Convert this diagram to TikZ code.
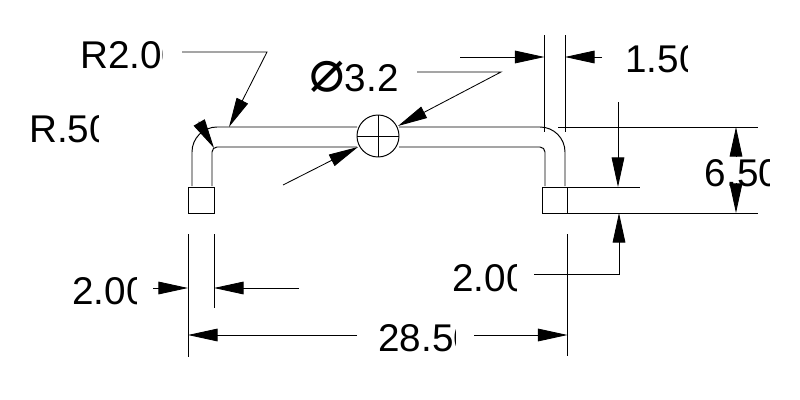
\documentclass[tikz,border=0pt]{standalone}
\usepackage{fontspec}
\setmainfont{Liberation Sans}
\newfontfamily\symfont{DejaVu Sans}
\usetikzlibrary{arrows.meta}
\tikzset{
  part/.style={line width=0.7pt},
  extline/.style={line width=0.6pt},
  dimarrow/.style={line width=0.6pt,-{Triangle[length=21pt,width=9pt]}},
  dimtext/.style={anchor=base west,inner sep=0pt,font=\fontsize{27.5}{27.5}\selectfont}
}
\newcommand{\dimlabel}[5]{%
\begin{scope}
\clip (#2-4,#3-45) rectangle (#4,#3+10);
\node[dimtext] (#1) at (#2,#3) {#5};
\end{scope}}

\begin{document}
\begin{tikzpicture}[x=0.25mm,y=-0.25mm]
\useasboundingbox (0,0) rectangle (800,400);

% bar
\draw[part] (192,186) -- (192,152) arc[start angle=180,end angle=270,radius=25] -- (357,127);
\draw[part] (212,186) -- (212,152) arc[start angle=180,end angle=270,radius=5] -- (357,147);
\draw[part] (399,127) -- (540,127) arc[start angle=270,end angle=360,radius=25] -- (565,186);
\draw[part] (399,147) -- (540,147) arc[start angle=270,end angle=360,radius=5] -- (545,186);
\draw[part] (188,187) rectangle (214.5,213);
\draw[part] (542,187) rectangle (567.5,213);

% hole
\draw[part] (378,136) circle[radius=21];
\draw[extline] (357,136) -- (399,136);
\draw[extline] (378,115) -- (378,157);

% extension lines
\foreach \x in {544.5,565}
\draw[extline] (\x,35) -- (\x,132);
\draw[extline] (558,127) -- (758,127);
\draw[extline] (567,187) -- (640,187);
\draw[extline] (542,213) -- (758,213);
\draw[extline] (188,234) -- (188,357);
\draw[extline] (214,234) -- (214,308);
\draw[extline] (567.5,234) -- (567.5,356);

% arrows
\draw[dimarrow] (460,57) -- (544.5,57);
\draw[dimarrow] (602,57) -- (565,57);
\draw[dimarrow] (618,102) -- (618,187);
\draw[dimarrow] (736,157) -- (736,127);
\draw[dimarrow] (736,183) -- (736,213);
\draw[dimarrow] (153,288) -- (188,288);
\draw[dimarrow] (299,288) -- (214,288);
\draw[dimarrow] (357,335) -- (188,335);
\draw[dimarrow] (474,335) -- (567.5,335);
\draw[dimarrow] (534,274) -- (619,274) -- (619,213);
\draw[dimarrow] (182,52) -- (267,52) -- (229,127);
\draw[dimarrow] (417,72) -- (501,72) -- (398,126);
\draw[dimarrow] (283,185) -- (358,147);
\draw[dimarrow] (198.7,121.7) -- (214,148);

% labels
\dimlabel{rlarge}{80}{68}{162}{R2.00}
\dimlabel{rsmall}{29}{142}{98}{R.50}
\dimlabel{dia}{309}{91}{398}{{\symfont\fontsize{42}{42}\selectfont ⌀}3.20}
\dimlabel{wtop}{625}{72}{687}{1.50}
\dimlabel{hgt}{704.5}{186}{769}{6.50}
\dimlabel{wleft}{72}{304}{136}{2.00}
\dimlabel{wright}{452}{291}{516}{2.00}
\dimlabel{wtotal}{378}{351}{455}{28.50}
\end{tikzpicture}
\end{document}
